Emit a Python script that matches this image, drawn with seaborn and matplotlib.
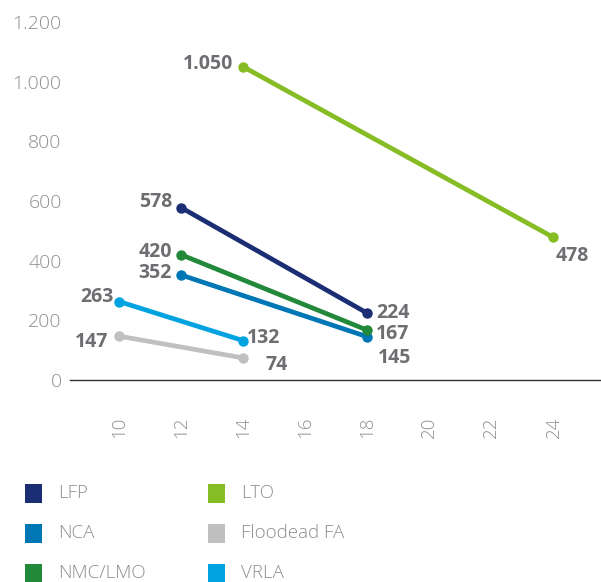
import matplotlib
matplotlib.use("Agg")
import matplotlib.pyplot as plt
from matplotlib.patches import Rectangle
import pandas as pd
import seaborn as sns

# Battery chemistries: cycle-life x-values and cost values
series = ["LFP", "NCA", "NMC/LMO", "LTO", "Floodead FA", "VRLA"]
x_start = [12, 12, 12, 14, 10, 10]
x_end = [18, 18, 18, 24, 14, 14]
y_start = [578, 352, 420, 1050, 147, 263]
y_end = [224, 145, 167, 478, 74, 132]
colors = ["#1b2e74", "#0077b5", "#22883a", "#86bc24", "#bfc0bf", "#00a3e0"]
x_ticks = [10, 12, 14, 16, 18, 20, 22, 24]
y_ticks = [0, 200, 400, 600, 800, 1000, 1200]

# label offsets in pixels (dx, dy, ha) for start / end labels
start_offsets = {"LFP": (-9, 6, "right"), "NCA": (-9, 2, "right"),
                 "NMC/LMO": (-9, 3, "right"), "LTO": (-10, 3, "right"),
                 "Floodead FA": (-11, -6, "right"), "VRLA": (-5, 5, "right")}
end_offsets = {"LFP": (9, 0, "left"), "NCA": (11, -21, "left"),
               "NMC/LMO": (9, -4, "left"), "LTO": (2, -19, "left"),
               "Floodead FA": (22, -7, "left"), "VRLA": (4, 3, "left")}

rows = []
for s, xa, xb, ya, yb in zip(series, x_start, x_end, y_start, y_end):
    rows.append({"series": s, "x": xa, "y": ya})
    rows.append({"series": s, "x": xb, "y": yb})
df = pd.DataFrame(rows)
palette = dict(zip(series, colors))

sns.set_theme(style="white")
plt.rcParams["font.family"] = ["Open Sans", "DejaVu Sans"]

W, H = 601, 582
fig = plt.figure(figsize=(W / 100, H / 100), dpi=100)
ax = fig.add_axes([70 / W, 202 / H, 530 / W, 358 / H])

draw_order = ["Floodead FA", "VRLA", "NCA", "NMC/LMO", "LFP", "LTO"]
sns.lineplot(data=df, x="x", y="y", hue="series", hue_order=draw_order,
             units="series", estimator=None, palette=palette,
             linewidth=3.4, marker="o", markersize=7.5, markeredgewidth=0,
             legend=False, ax=ax, clip_on=False)

px = 0.72
label_color = "#6d6e71"
tick_color = "#8e8e8e"


def fmt(v):
    return f"{v:,}".replace(",", ".")


for s, xa, xb, ya, yb in zip(series, x_start, x_end, y_start, y_end):
    for (xv, yv, off) in ((xa, ya, start_offsets[s]), (xb, yb, end_offsets[s])):
        dx, dy, ha = off
        ax.annotate(fmt(yv), (xv, yv), xytext=(dx * px, dy * px),
                    textcoords="offset points", ha=ha, va="center",
                    fontsize=14, fontweight="bold", color=label_color)

ax.set_xlim(8.42, 25.5)
ax.set_ylim(0, 1200)
ax.set_xticks(x_ticks)
ax.set_yticks(y_ticks)
ax.set_xticklabels([str(t) for t in x_ticks], rotation=90)
ax.set_yticklabels([fmt(t) for t in y_ticks])
ax.tick_params(axis="x", length=0, pad=26.5, labelsize=13.5, labelcolor=tick_color)
ax.tick_params(axis="y", length=0, pad=6, labelsize=14, labelcolor=tick_color)
for lbl in ax.get_xticklabels() + ax.get_yticklabels():
    lbl.set_fontweight("light")
ax.set_xlabel("")
ax.set_ylabel("")
for side in ("left", "right", "top"):
    ax.spines[side].set_visible(False)
ax.spines["bottom"].set_color("#333333")
ax.spines["bottom"].set_linewidth(1.0)

# two-column legend with square swatches
legend_order = ["LFP", "NCA", "NMC/LMO", "LTO", "Floodead FA", "VRLA"]
col_x = [25, 208]
row_y = [493, 533, 573]
for i, s in enumerate(legend_order):
    cx = col_x[i // 3]
    cy = row_y[i % 3]
    fig.add_artist(Rectangle((cx / W, 1 - (cy + 9.5) / H), 17 / W, 19 / H,
                             transform=fig.transFigure, facecolor=palette[s],
                             edgecolor="none"))
    fig.text((cx + 33) / W, 1 - cy / H, s, ha="left", va="center",
             fontsize=13.5, fontweight="light", color=tick_color)

fig.savefig("out.png", dpi=100)
